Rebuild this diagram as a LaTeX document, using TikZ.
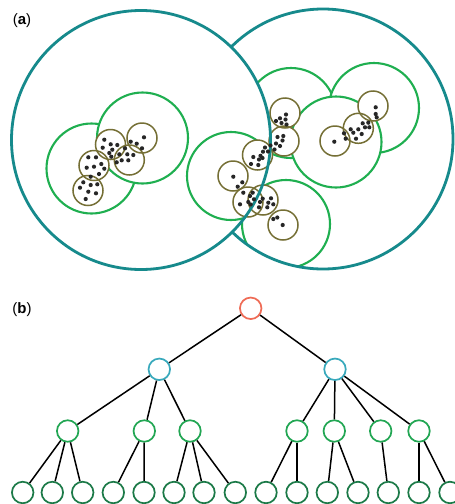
\documentclass[tikz,border=0pt]{standalone}
\usepackage{fontspec}
\setmainfont{Liberation Sans}
\definecolor{tealc}{HTML}{168A8C}
\definecolor{greenc}{HTML}{1FAF50}
\definecolor{olivec}{HTML}{756F35}
\definecolor{rootc}{HTML}{EF6B55}
\definecolor{midc}{HTML}{38A9BC}
\definecolor{lvtwo}{HTML}{22A653}
\definecolor{leafc}{HTML}{1C7A48}
\begin{document}
\begin{tikzpicture}[x=1pt,y=-1pt,
  bigring/.style={draw=tealc,line width=2.8pt},
  greenring/.style={draw=greenc,fill=white,line width=2.1pt},
  olivering/.style={draw=olivec,line width=1.5pt},
  dot/.style={fill=black!85},
  lab/.style={font=\fontsize{15}{17}\selectfont,inner sep=0pt},
  tn/.style={circle,draw,fill=white,line width=1.7pt,minimum size=21.5pt,inner sep=0pt},
  rootn/.style={tn,draw=rootc},
  midn/.style={tn,draw=midc},
  twon/.style={tn,draw=lvtwo},
  leafn/.style={tn,draw=leafc},
  edge/.style={draw=black,line width=1.5pt}]
\clip (0,0) rectangle (455,504);
\fill[white] (0,0) rectangle (455,504);
% ---------- panel (a) ----------
\node[lab] (la) at (22,21) {(\textbf{a})};
% right big circle
\fill[white] (323,139) circle[radius=130pt];
\begin{scope}
  \clip (323,139) circle[radius=130pt];
  \draw[greenring] (291,113) circle[radius=45pt];
  \draw[greenring] (374,108) circle[radius=45pt];
  \draw[greenring] (336,142) circle[radius=45.5pt];
  \draw[greenring] (286,224) circle[radius=44pt];
\end{scope}
\draw[bigring] (323,139) circle[radius=130pt];
% left big circle
\fill[white] (141,140) circle[radius=129.5pt];
\begin{scope}
  \clip (141,140) circle[radius=129.5pt];
  \draw[greenring] (91.5,168.5) circle[radius=45pt];
  \draw[greenring] (142.5,138) circle[radius=45.5pt];
  \draw[greenring] (231,176) circle[radius=44pt];
\end{scope}
% olive circles
\foreach \x/\y in {88/190.5, 94/165.5, 110.5/144.5, 142/138, 129.3/160,
  285/113, 284/141, 257.5/155, 233/176, 248/202, 263/200, 283/225,
  335/141, 358.3/128.3, 373/106}
  \fill[white] (\x,\y) circle[radius=15pt];
\foreach \x/\y in {88/190.5, 94/165.5, 110.5/144.5, 142/138, 129.3/160,
  285/113, 284/141, 257.5/155, 233/176, 248/202, 263/200, 283/225,
  335/141, 358.3/128.3, 373/106}
  \draw[olivering] (\x,\y) circle[radius=15pt];
\draw[bigring] (141,140) circle[radius=129.5pt];
% points
\foreach \x/\y in {
  83.3/182.3, 90.7/185, 97.3/184.3, 80/187.7, 88.3/191.7, 96/193.3, 85.7/199,
  88.3/157.3, 96/157.3, 86.7/167.7, 94/166.7, 101.3/164, 104.3/168.7, 90.7/176.7, 99/174,
  104.3/139.7, 110.7/144.3, 117.3/145, 102.7/147.7, 112.3/149.7, 109.3/153, 111.3/156.7,
  130.7/141.7, 136.7/143.7, 142/148.3, 144/137.3, 125/148.3, 119.3/154.3, 127.3/154.3,
  133.3/155, 121.7/160.3, 128.3/160.3, 116.7/162.3,
  286/114.5, 285.5/119.5, 280/118.3, 276/121, 286.5/124.5, 281.5/123,
  283.3/136, 277.5/137, 282.5/140.5, 276/143.5, 280/146, 270.5/145.5, 274.5/149.5,
  265/147.5, 263/151.7, 268/151.5, 260.5/155.8, 253.3/157, 262.5/158, 259/159.5, 251/164, 258.3/165,
  233.3/176.7, 242.3/182.3, 237.7/186.7,
  243.3/192.7, 252.7/192.7, 250/196, 254/199.3, 248.3/202, 250.7/204.5, 240/204.3,
  260/202, 262.7/198.7, 271/198.3, 268.3/202.7, 273.3/204.3, 259/207.3, 267.3/207.3,
  273.3/219, 277.3/217.5, 282.7/225,
  334.3/141.7, 344/133.3, 345.7/138.7, 350.7/129.3, 353.3/132.7, 358.3/129.3, 361.7/134,
  356/138.7, 362.7/123.3, 368.3/122.7, 365/127.3, 369.3/127.3,
  375.7/107.3, 375.7/114, 376.7/117.3}
  \fill[dot] (\x,\y) circle[radius=2.1pt];
% ---------- panel (b) ----------
\node[lab] (lb) at (22,310) {(\textbf{b})};
\node[rootn] (r) at (250.7,308.3) {};
\node[midn] (a) at (159.3,369.3) {};
\node[midn] (b) at (335,369.3) {};
\node[twon] (a1) at (67.7,431) {};
\node[twon] (a2) at (144.3,431) {};
\node[twon] (a3) at (190,431) {};
\node[twon] (b1) at (297,431) {};
\node[twon] (b2) at (334.3,431) {};
\node[twon] (b3) at (380.7,431) {};
\node[twon] (b4) at (419,431) {};
\foreach \i/\x in {1/22.7, 2/52.3, 3/82.7, 4/113.3, 5/144, 6/174, 7/204, 8/235.3,
  9/266, 10/297, 11/327.3, 12/358, 13/388.3, 14/419, 15/450}
  \node[leafn] (l\i) at (\x,492.5) {};
\foreach \p/\c in {r/a, r/b, a/a1, a/a2, a/a3, b/b1, b/b2, b/b3, b/b4,
  a1/l1, a1/l2, a1/l3, a2/l4, a2/l5, a3/l6, a3/l7, a3/l8,
  b1/l9, b1/l10, b2/l11, b2/l12, b3/l13, b4/l14, b4/l15}
  \draw[edge] (\p) -- (\c);
\end{tikzpicture}
\end{document}
